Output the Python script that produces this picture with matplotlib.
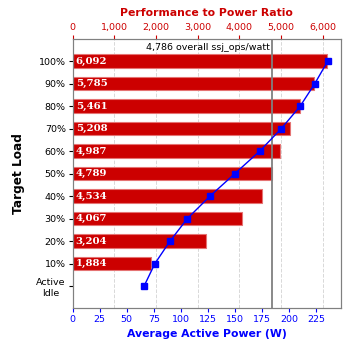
import numpy as np
import matplotlib.pyplot as plt

plt.rcParams['font.family'] = 'DejaVu Sans'
plt.rcParams['font.size'] = 7

# target load levels, top to bottom
loads = ['100%', '90%', '80%', '70%', '60%', '50%', '40%', '30%', '20%', '10%', 'Active\nIdle']
# performance to power ratio (ssj_ops/watt), no bar for active idle
ratio = [6092, 5785, 5461, 5208, 4987, 4789, 4534, 4067, 3204, 1884]
# average active power (W)
power = [236, 224, 210.5, 193, 173, 150, 127, 106, 90, 76, 66]
overall = 4786

fig = plt.figure(figsize=(3.48, 3.48), dpi=100)
ax = fig.add_axes([0.209, 0.115, 0.770, 0.772])
ax2 = ax.twiny()

y = np.arange(len(loads))[::-1]

# ratio bars on the top axis
ax.barh(y[:len(ratio)], ratio, height=0.6, color='#cc0000', edgecolor='#e57373', linewidth=0.8, zorder=2)
for yi, v in zip(y, ratio):
    ax.text(70, yi, '{:,}'.format(v), color='white', fontweight='bold', family='DejaVu Serif',
            fontsize=7.3, va='center', ha='left', zorder=3)

ax.axvline(overall, color='#808080', linewidth=1.3, zorder=4)
ax.text(overall - 50, 10.62, '{:,} overall ssj_ops/watt'.format(overall), ha='right', va='center',
        fontsize=6.8, color='black', zorder=4)

ax.set_xlim(0, 6432)
ax.set_xticks(range(0, 7000, 1000))
ax.set_xticklabels(['{:,}'.format(t) for t in range(0, 7000, 1000)])
ax.xaxis.set_ticks_position('top')
ax.xaxis.set_label_position('top')
ax.tick_params(axis='x', colors='#cc0000', labelsize=6.8, length=3, pad=2)
ax.set_xlabel('Performance to Power Ratio', color='#cc0000', fontweight='bold', fontsize=7.8, labelpad=5)
ax.grid(axis='x', color='#d8d8d8', linestyle='--', linewidth=0.7, zorder=0)
ax.set_axisbelow(True)

ax.set_ylim(-0.97, 10.97)
ax.set_yticks(y)
ax.set_yticklabels(loads, multialignment='center')
ax.tick_params(axis='y', labelsize=6.8, length=3, pad=2)
ax.set_ylabel('Target Load', fontweight='bold', fontsize=8.7, labelpad=8)

# power line on the bottom axis
ax2.plot(power, y, color='#0000ff', linewidth=1, marker='s', markersize=5, zorder=5)
ax2.set_xlim(0, 248)
ax2.set_xticks(range(0, 250, 25))
ax2.xaxis.set_ticks_position('bottom')
ax2.xaxis.set_label_position('bottom')
ax2.tick_params(axis='x', colors='#0000ff', labelsize=6.8, length=3, pad=2)
ax2.set_xlabel('Average Active Power (W)', color='#0000ff', fontweight='bold', fontsize=7.8, labelpad=4)

for a in (ax, ax2):
    for s in a.spines.values():
        s.set_color('#808080')

fig.savefig('out.png', dpi=100)
